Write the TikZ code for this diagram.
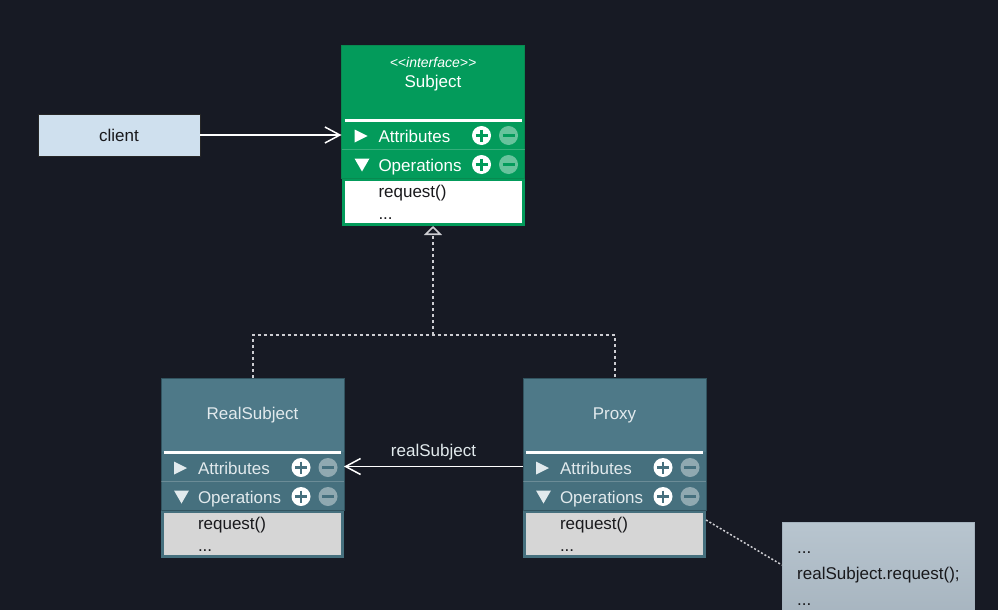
\documentclass[tikz,border=0pt]{standalone}
\usepackage{fontspec}
\setmainfont{Liberation Sans}
\usetikzlibrary{arrows.meta,positioning}
\definecolor{bgnavy}{RGB}{23,26,36}
\definecolor{subjgreen}{RGB}{3,155,91}
\definecolor{subjedge}{RGB}{8,138,80}
\definecolor{tealhead}{RGB}{78,121,136}
\definecolor{tealrow}{RGB}{70,112,126}
\definecolor{tealedge}{RGB}{50,84,96}
\definecolor{bodygrey}{RGB}{214,214,214}
\definecolor{clientblue}{RGB}{207,224,238}
\definecolor{notetop}{RGB}{184,197,207}
\definecolor{notebottom}{RGB}{165,179,190}
\definecolor{lighttext}{RGB}{226,234,237}
\definecolor{inktext}{RGB}{25,25,28}
\definecolor{dotgrey}{RGB}{205,205,210}
\newcommand{\bigfont}{\fontsize{17}{22}\selectfont}

\begin{document}
\begin{tikzpicture}[x=1pt, y=-1pt,
      head/.style={minimum width=183pt, minimum height=74pt, inner sep=0pt,
                   outer sep=0pt, font=\bigfont},
      row/.style={minimum width=183pt, minimum height=29pt, inner sep=0pt,
                  outer sep=0pt, text width=109pt, align=left,
                  text height=15pt, text depth=0pt, font=\bigfont},
      body/.style={minimum width=180pt, minimum height=45pt, inner sep=0pt,
                   outer sep=1.5pt, text width=109pt, align=left,
                   line width=3pt, font=\bigfont, text=inktext},
      stereo/.style={font=\fontsize{14}{16}\selectfont\itshape, text=white},
      client/.style={draw=black!85, fill=clientblue, minimum width=162pt,
                     minimum height=42pt, font=\bigfont, text=inktext},
      note/.style={top color=notetop, bottom color=notebottom, draw=notebottom,
                   text width=162pt, inner xsep=15pt, inner ysep=13pt,
                   align=left, font=\fontsize{17}{26}\selectfont, text=inktext},
      assoc/.style={draw=white, line width=1.5pt,
                    -{Straight Barb[length=15pt, width=16pt, line width=1.5pt]}},
      realize/.style={draw=dotgrey, line width=2pt, dash pattern=on 3pt off 3pt},
      anchorline/.style={draw=dotgrey, line width=1.5pt, dash pattern=on 2pt off 2pt}
    ]
    \useasboundingbox (0,0) rectangle (998,610);
    \clip (0,0) rectangle (998,610);
    \fill[bgnavy] (0,0) rectangle (998,610);

    % interface
    \node[head, fill=subjgreen, text=white] (s-head) at (433,83) {Subject};
    \node[stereo] (s-stereo) at ([yshift=-16pt]s-head.north) {<\kern0pt<interface>\kern0pt>};
    \node[row, fill=subjgreen, text=white, below=0pt of s-head] (s-attr) {Attributes};
    \node[row, fill=subjgreen, text=white, below=0pt of s-attr] (s-ops) {Operations};
    \node[body, fill=white, draw=subjgreen, below=0pt of s-ops] (s-body) {request()\\...};

    % implementations
    \node[head, fill=tealhead, text=lighttext] (r-head) at (252.5,415) {RealSubject};
    \node[row, fill=tealrow, text=lighttext, below=0pt of r-head] (r-attr) {Attributes};
    \node[row, fill=tealrow, text=lighttext, below=0pt of r-attr] (r-ops) {Operations};
    \node[body, fill=bodygrey, draw=tealrow, below=0pt of r-ops] (r-body) {request()\\...};

    \node[head, fill=tealhead, text=lighttext] (p-head) at (614.5,415) {Proxy};
    \node[row, fill=tealrow, text=lighttext, below=0pt of p-head] (p-attr) {Attributes};
    \node[row, fill=tealrow, text=lighttext, below=0pt of p-attr] (p-ops) {Operations};
    \node[body, fill=bodygrey, draw=tealrow, below=0pt of p-ops] (p-body) {request()\\...};

    % compartments
    \foreach \c/\e in {s/subjedge, r/tealedge, p/tealedge} {
      \draw[\e, line width=1pt] (\c-head.north west) rectangle (\c-ops.south east);
      \draw[white, line width=3pt] ([xshift=3pt]\c-head.south west) -- ([xshift=-3pt]\c-head.south east);
      \draw[white, opacity=0.2] (\c-attr.south west) -- (\c-attr.south east);
    }
    \foreach \r/\t in {s-attr/white, r-attr/lighttext, p-attr/lighttext}
      \fill[\t] ([xshift=13pt, yshift=5pt]\r.west) -- ++(13,6.5) -- ++(-13,6.5) -- cycle;
    \foreach \r/\t in {s-ops/white, r-ops/lighttext, p-ops/lighttext}
      \fill[\t] ([xshift=13pt, yshift=5pt]\r.west) -- ++(15,0) -- ++(-7.5,13) -- cycle;
    \foreach \r/\f in {s-attr/subjgreen, s-ops/subjgreen, r-attr/tealrow,
                       r-ops/tealrow, p-attr/tealrow, p-ops/tealrow} {
      \fill[white] ([xshift=-43pt, yshift=-1pt]\r.east) circle (9.5pt);
      \draw[\f, line width=2.5pt] ([xshift=-49pt, yshift=-1pt]\r.east) -- ([xshift=-37pt, yshift=-1pt]\r.east)
        ([xshift=-43pt, yshift=5pt]\r.east) -- ([xshift=-43pt, yshift=-7pt]\r.east);
      \fill[white, opacity=0.4] ([xshift=-16pt, yshift=-1pt]\r.east) circle (9.5pt);
      \draw[\f, line width=2.5pt] ([xshift=-22pt, yshift=-1pt]\r.east) -- ([xshift=-10pt, yshift=-1pt]\r.east);
    }

    \node[client] (client) at (119,135) {client};
    \node[note, anchor=north west] (note) at (782,522)
      {\strut...\\realSubject.request();\\...\strut};

    % connectors
    \coordinate (join) at (433,335);
    \draw[assoc] (client) -- (client -| s-attr.west);
    \draw[realize] (r-head.north) |- (join) -| (p-head.north);
    \draw[realize, -{Triangle[open, length=9pt, width=18pt, line width=1.6pt]}] (join) -- (s-body.south);
    \draw[assoc] (p-attr.west) -- node[above=2pt, font=\bigfont, text=lighttext] {realSubject} (r-attr.east);
    \draw[anchorline] ([yshift=-10pt]p-body.north east) -- ([yshift=-43pt]note.north west);
  \end{tikzpicture}
\end{document}
